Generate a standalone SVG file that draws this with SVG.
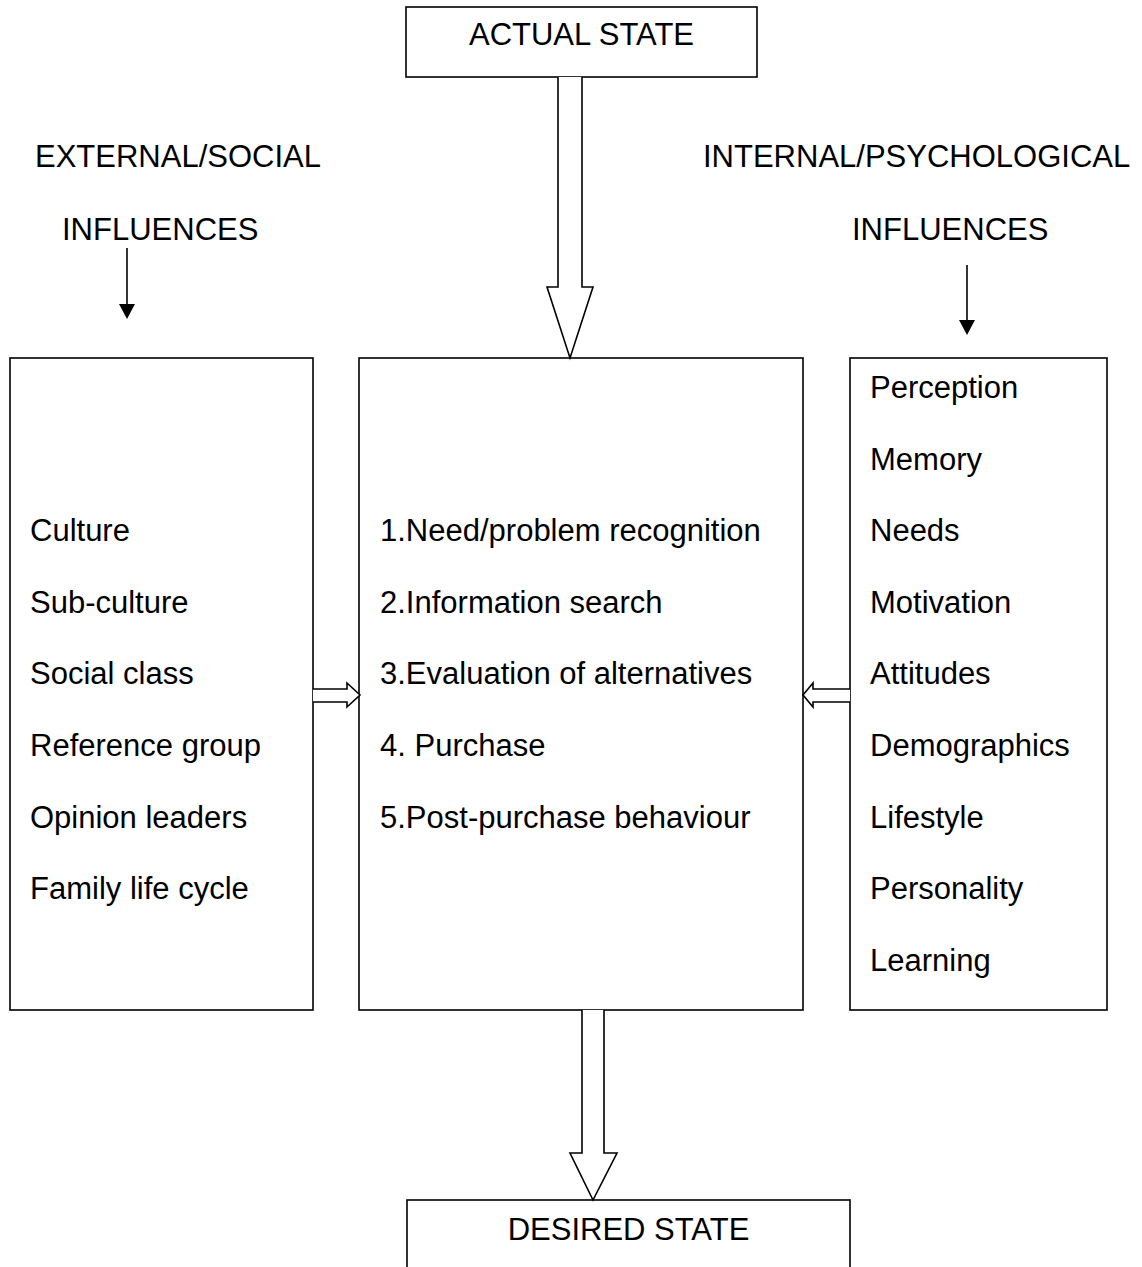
<svg xmlns="http://www.w3.org/2000/svg" width="1142" height="1267" viewBox="0 0 1142 1267">
<defs>
<style>
.box{fill:#fff;stroke:#000;stroke-width:1.6}
.bar{fill:#fff;stroke:#000;stroke-width:1.6;stroke-linejoin:miter}
.t{font-family:"Liberation Sans",Arial,sans-serif;font-size:31px;fill:#000}
.c{text-anchor:middle}
.thin{stroke:#000;stroke-width:1.6;fill:none}
</style>
<marker id="ah" markerWidth="16" markerHeight="16" refX="1" refY="8" orient="auto" markerUnits="userSpaceOnUse" viewBox="0 0 16 16">
<path d="M0,0 L15,8 L0,16 Z" fill="#000"/>
</marker>
</defs>
<rect width="1142" height="1267" fill="#fff"/>

<g id="labels">
<text class="t" x="35" y="167">EXTERNAL/SOCIAL</text>
<text class="t" x="62" y="240">INFLUENCES</text>
<text class="t" x="703" y="167">INTERNAL/PSYCHOLOGICAL</text>
<text class="t" x="852" y="240">INFLUENCES</text>
</g>

<g id="actual-state">
<rect class="box" x="406" y="7" width="351" height="70"/>
<text class="t c" x="581.5" y="45">ACTUAL STATE</text>
</g>

<g id="external-box">
<rect class="box" x="10" y="358" width="303" height="652"/>
<text class="t" x="30" y="541">Culture</text>
<text class="t" x="30" y="613">Sub-culture</text>
<text class="t" x="30" y="684">Social class</text>
<text class="t" x="30" y="756">Reference group</text>
<text class="t" x="30" y="828">Opinion leaders</text>
<text class="t" x="30" y="899">Family life cycle</text>
</g>

<g id="process-box">
<rect class="box" x="359" y="358" width="444" height="652"/>
<text class="t" x="380" y="541">1.Need/problem recognition</text>
<text class="t" x="380" y="613">2.Information search</text>
<text class="t" x="380" y="684">3.Evaluation of alternatives</text>
<text class="t" x="380" y="756">4. Purchase</text>
<text class="t" x="380" y="828">5.Post-purchase behaviour</text>
</g>

<g id="internal-box">
<rect class="box" x="850" y="358" width="257" height="652"/>
<text class="t" x="870" y="398">Perception</text>
<text class="t" x="870" y="470">Memory</text>
<text class="t" x="870" y="541">Needs</text>
<text class="t" x="870" y="613">Motivation</text>
<text class="t" x="870" y="684">Attitudes</text>
<text class="t" x="870" y="756">Demographics</text>
<text class="t" x="870" y="828">Lifestyle</text>
<text class="t" x="870" y="899">Personality</text>
<text class="t" x="870" y="971">Learning</text>
</g>

<g id="desired-state">
<rect class="box" x="407" y="1200" width="443" height="80"/>
<text class="t c" x="628.5" y="1240">DESIRED STATE</text>
</g>

<g id="connectors">
<path class="bar" d="M558,77 L558,287 L547,287 L570,358 L593,287 L582,287 L582,77"/>
<path class="bar" d="M582,1010 L582,1153 L570,1153 L593,1200 L617,1153 L604,1153 L604,1010"/>
<path class="bar" d="M313,689 L347,689 L347,683 L360,695 L347,707 L347,702 L313,702"/>
<path class="bar" d="M850,689 L813,689 L813,683 L803,695 L813,707 L813,702 L850,702"/>
<line class="thin" x1="127" y1="248" x2="127" y2="305" marker-end="url(#ah)"/>
<line class="thin" x1="967" y1="265" x2="967" y2="321" marker-end="url(#ah)"/>
</g>
</svg>
